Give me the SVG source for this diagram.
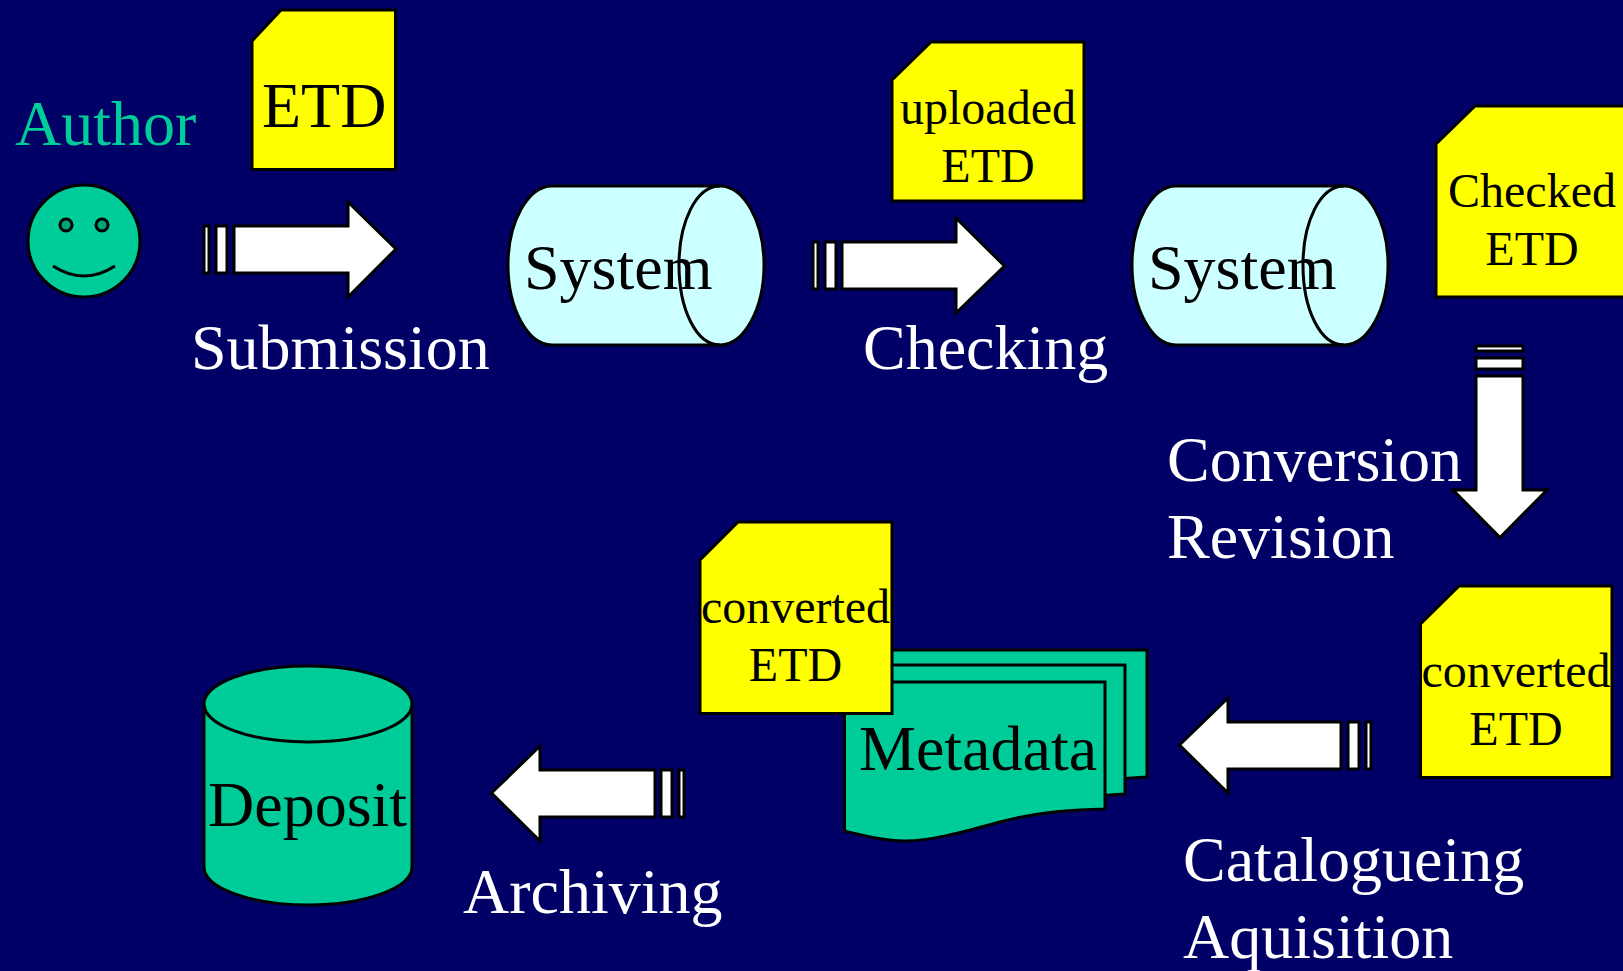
<svg xmlns="http://www.w3.org/2000/svg" width="1623" height="971" viewBox="0 0 1623 971">
<style>
text{font-family:"Liberation Serif","Times New Roman",serif}
.l{font-size:64px;fill:#fff}
.b{font-size:64px;fill:#000}
.s{font-size:48px;fill:#000;text-anchor:middle}
.o{stroke:#000;stroke-width:3}
.y{fill:#ff0}
.g{fill:#00cc99}
.c{fill:#ccffff}
.w{fill:#fff}
.n{fill:none}
</style>
<rect width="1623" height="971" fill="#000066"/>
<g id="author">
<text x="15" y="145" font-size="64" fill="#00cc99">Author</text>
<circle class="g o" cx="84" cy="241" r="56"/>
<circle cx="66" cy="225" r="6" fill="#00a37a" class="o"/>
<circle cx="102" cy="225" r="6" fill="#00a37a" class="o"/>
<path class="n o" d="M53 266Q84 286 115 266"/>
</g>
<g id="etd">
<path class="y o" d="M281 10H395.500V169.500H252V41Z"/>
<text x="262" y="127" class="b">ETD</text>
</g>
<g id="system1">
<path class="c o" d="M552 186H720C744 186 764 222 764 265C764 309 744 345 720 345H552C528 345 508 309 508 265C508 222 528 186 552 186Z"/>
<path class="n o" d="M720 186C696 186 679 222 679 265C679 309 696 345 720 345"/>
<text x="524" y="289" class="b">System</text>
</g>
<g id="uploaded">
<path class="y o" d="M931 42H1084V201H892V80Z"/>
<text x="988" y="124" class="s">uploaded</text>
<text x="988" y="182" class="s">ETD</text>
</g>
<g id="system2">
<path class="c o" d="M1176 186H1344C1368 186 1388 222 1388 265C1388 309 1368 345 1344 345H1176C1152 345 1132 309 1132 265C1132 222 1152 186 1176 186Z"/>
<path class="n o" d="M1344 186C1320 186 1303 222 1303 265C1303 309 1320 345 1344 345"/>
<text x="1148" y="289" class="b">System</text>
</g>
<g id="checked">
<path class="y o" d="M1475 106H1625V297H1436V144Z"/>
<text x="1532" y="207" class="s">Checked</text>
<text x="1532" y="265" class="s">ETD</text>
</g>
<g id="converted1">
<path class="y o" d="M1459 586H1612V777.500H1420.500V624Z"/>
<text x="1516" y="687" class="s">converted</text>
<text x="1516" y="745" class="s">ETD</text>
</g>
<g id="metadata">
<path class="g o" d="M880 650H1147V777L1100 780V700H880Z"/>
<path class="g o" d="M860 665H1125V794L1080 797V700H860Z"/>
<path class="g o" d="M844.500 682H1105V809C1060 810 1025 815 1000 822C960 833 930 841 905 841C885 841 865 836 844.500 831Z"/>
<text x="859" y="770" class="b">Metadata</text>
</g>
<g id="converted2">
<path class="y o" d="M738 522H892V713.500H700V560Z"/>
<text x="795.500" y="623" class="s">converted</text>
<text x="795.500" y="681" class="s">ETD</text>
</g>
<g id="deposit">
<path class="g o" d="M204 704V867C204 888 251 905 308 905C365 905 412 888 412 867V704"/>
<ellipse class="g o" cx="308" cy="704" rx="104" ry="38"/>
<text x="208" y="826" class="b">Deposit</text>
</g>
<g id="connectors">
<g class="w o">
<path d="M234 226H348V202L396 249L348 297V273H234Z"/><rect x="204" y="226" width="5" height="47"/><rect x="216" y="226" width="11" height="47"/>
<path d="M842 242H956V218L1004.500 266L956 313V289H842Z"/><rect x="813" y="242" width="5" height="47"/><rect x="825" y="242" width="11" height="47"/>
<path d="M1476 376V490H1453L1500 537.500L1547 490H1523V376Z"/><rect x="1476" y="346" width="47" height="5"/><rect x="1476" y="358" width="47" height="11"/>
<path d="M1341 722H1228V698L1179.500 745L1228 793V769H1341Z"/><rect x="1348" y="722" width="11" height="47"/><rect x="1366" y="722" width="5" height="47"/>
<path d="M655 770H540V746L491.500 793L540 841V817H655Z"/><rect x="661" y="770" width="11" height="47"/><rect x="679" y="770" width="5" height="47"/>
</g>
</g>
<g id="labels">
<text x="191" y="369" class="l">Submission</text>
<text x="863" y="369" class="l">Checking</text>
<text x="1167" y="481" class="l">Conversion</text>
<text x="1167" y="558" class="l">Revision</text>
<text x="1183" y="881" class="l">Catalogueing</text>
<text x="1183" y="958" class="l">Aquisition</text>
<text x="463" y="913" class="l">Archiving</text>
</g>
</svg>
